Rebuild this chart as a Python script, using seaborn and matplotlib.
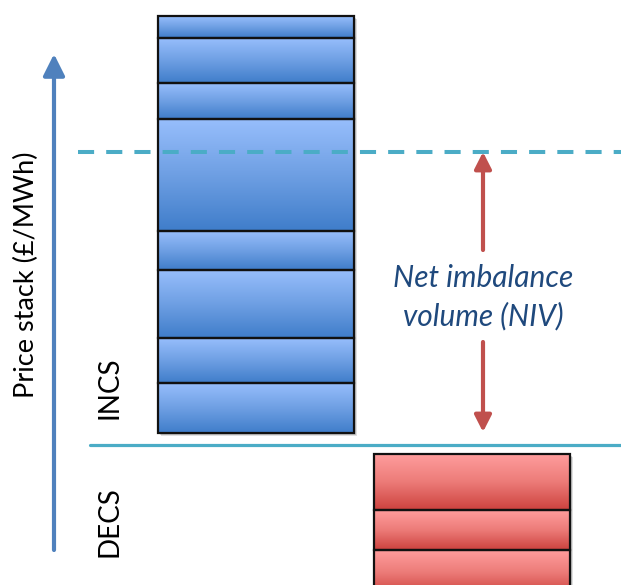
import numpy as np
import matplotlib
matplotlib.use("Agg")
import matplotlib.pyplot as plt
import seaborn as sns
from matplotlib import patheffects as pe
from matplotlib.colors import LinearSegmentedColormap

# Offer stack (INCS) block sizes, bottom to top
inc_volumes = [50, 45, 68, 39, 112, 36, 45, 22]
# Bid stack (DECS) block sizes, top to bottom
dec_volumes = [56, 40, 45]

inc_base = 12          # first INC sits just above the zero line
dec_base = -9          # first DEC hangs just below the zero line
clearing_price = 293   # marginal price reached by the NIV
inc_x, dec_x = 256, 472
bar_width = 196

sns.set_theme(style="white")
plt.rcParams["font.family"] = ["Lato", "DejaVu Sans"]

fig = plt.figure(figsize=(6.21, 5.85), dpi=100)
ax = fig.add_axes([0, 0, 1, 1])
ax.set_xlim(0, 621)
ax.set_ylim(-140, 445)
ax.axis("off")

blue_cmap = LinearSegmentedColormap.from_list("incs", ["#3F7DCA", "#6E9FE3", "#97BEFC"])
red_cmap = LinearSegmentedColormap.from_list("decs", ["#CD423E", "#EC7B78", "#FF9D9D"])
grad = np.linspace(0, 1, 256).reshape(-1, 1)

shadow = [pe.SimplePatchShadow(offset=(2.5, -2.5), shadow_rgbFace="#000000", alpha=0.12),
          pe.SimplePatchShadow(offset=(1.2, -1.2), shadow_rgbFace="#000000", alpha=0.15)]


def draw_stack(x, heights, bottoms, cmap):
    # shadow layer
    ax.bar([x] * len(heights), heights, bottom=bottoms, width=bar_width,
           facecolor="white", edgecolor="none", zorder=2, path_effects=shadow)
    # outlines on top
    rects = ax.bar([x] * len(heights), heights, bottom=bottoms, width=bar_width,
                   facecolor="none", edgecolor="#111111", linewidth=1.6, zorder=4)
    for r in rects:
        x0, y0 = r.get_x(), r.get_y()
        im = ax.imshow(grad, extent=[x0, x0 + r.get_width(), y0, y0 + r.get_height()],
                       origin="lower", cmap=cmap, aspect="auto", zorder=3,
                       interpolation="bilinear")
        im.set_clip_path(r)


inc_bottoms = inc_base + np.concatenate([[0], np.cumsum(inc_volumes)[:-1]])
draw_stack(inc_x, inc_volumes, inc_bottoms, blue_cmap)

dec_bottoms = dec_base - np.cumsum(dec_volumes)
draw_stack(dec_x, dec_volumes, dec_bottoms, red_cmap)

# Zero line separating INCS and DECS, and dashed clearing level
sns.lineplot(x=[90, 621], y=[0, 0], color="#4BACC6", linewidth=2.3, ax=ax, zorder=5)
sns.lineplot(x=[78, 621], y=[clearing_price, clearing_price], color="#4BACC6",
             linewidth=2.9, linestyle=(0, (4, 3)), ax=ax, zorder=5)

# Price axis arrow
ax.annotate("", xy=(54, 391), xytext=(54, -105),
            arrowprops=dict(arrowstyle="-|>,head_length=1.0,head_width=0.5",
                            color="#4F81BD", lw=3.0, mutation_scale=13,
                            shrinkA=0, shrinkB=0), zorder=6)

# NIV double arrow, split around its label
niv_x = 483
niv_style = dict(arrowstyle="-|>,head_length=0.55,head_width=0.28",
                 color="#C0504D", lw=3.0, mutation_scale=18, shrinkA=0, shrinkB=0)
ax.annotate("", xy=(niv_x, clearing_price), xytext=(niv_x, 195),
            arrowprops=niv_style, zorder=6)
ax.annotate("", xy=(niv_x, inc_base + 1), xytext=(niv_x, 103),
            arrowprops=niv_style, zorder=6)

ax.text(niv_x, 148, "Net imbalance\nvolume (NIV)", ha="center", va="center",
        fontsize=21.5, style="italic", color="#1F497D", linespacing=1.42, zorder=7)

ax.text(26, 170, "Price stack (£/MWh)", rotation=90, ha="center", va="center",
        fontsize=19.5, color="black", zorder=7)
ax.text(110, 57, "INCS", rotation=90, ha="center", va="center",
        fontsize=20, color="black", zorder=7)
ax.text(110, -77, "DECS", rotation=90, ha="center", va="center",
        fontsize=20, color="black", zorder=7)

fig.savefig("out.png", dpi=100)
